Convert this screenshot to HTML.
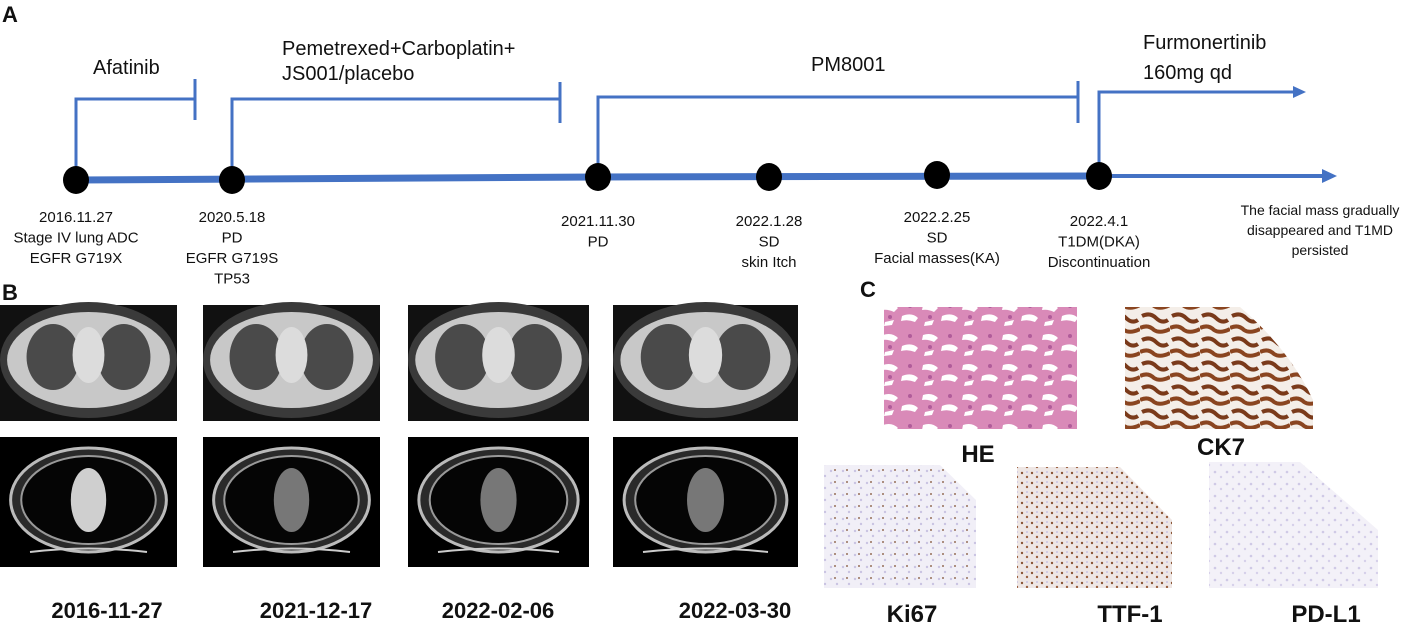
<!DOCTYPE html>
<html><head><meta charset="utf-8"><style>
html,body{margin:0;padding:0;background:#fff;}
svg{display:block;font-family:"Liberation Sans",sans-serif;}
.t{font-family:"Liberation Sans",sans-serif;fill:#111;}
</style></head><body>
<svg width="1418" height="625" viewBox="0 0 1418 625" xmlns="http://www.w3.org/2000/svg">
<defs>
 <pattern id="he" width="40" height="30" patternUnits="userSpaceOnUse">
  <rect width="40" height="30" fill="#d98ab8"/>
  <path d="M3 5 Q12 2 18 8 L14 12 Q8 9 2 10Z M22 16 Q32 12 38 18 L35 22 Q28 19 21 21Z M5 22 L14 20 L12 25 L4 26Z" fill="#fff"/>
  <circle cx="30" cy="6" r="2" fill="#b05c9a"/><circle cx="10" cy="17" r="2" fill="#b05c9a"/>
 </pattern>
 <pattern id="ck" width="30" height="24" patternUnits="userSpaceOnUse">
  <rect width="30" height="24" fill="#f4eee8"/>
  <path d="M2 4 Q10 0 16 6 Q22 12 28 8" stroke="#7a3a1a" stroke-width="4" fill="none"/>
  <path d="M0 16 Q8 12 14 18 Q20 22 30 17" stroke="#8a4520" stroke-width="4" fill="none"/>
 </pattern>
 <pattern id="ki" width="12" height="12" patternUnits="userSpaceOnUse">
  <rect width="12" height="12" fill="#f1eff7"/>
  <circle cx="3" cy="3" r="1.2" fill="#c9c3e2"/><circle cx="9" cy="8" r="1.2" fill="#c9c3e2"/>
  <circle cx="7" cy="2" r="0.9" fill="#7a4a2a"/>
 </pattern>
 <pattern id="ttf" width="10" height="10" patternUnits="userSpaceOnUse">
  <rect width="10" height="10" fill="#eee6e4"/>
  <circle cx="2" cy="3" r="1.2" fill="#8a5535"/><circle cx="7" cy="7" r="1.2" fill="#9a6040"/><circle cx="7" cy="2" r="1" fill="#c9c3e2"/>
 </pattern>
 <pattern id="pd" width="12" height="12" patternUnits="userSpaceOnUse">
  <rect width="12" height="12" fill="#f3f1f8"/>
  <circle cx="3" cy="4" r="1.3" fill="#cfc9e6"/><circle cx="9" cy="9" r="1.2" fill="#d6d0ea"/>
 </pattern>
</defs>

<!-- Panel A -->
<text class="t" x="2" y="22" font-size="22" font-weight="bold">A</text>
<g stroke="#4472c4" fill="none">
 <path d="M76 180 L598 177 L1099 176" stroke-width="7"/>
 <path d="M1099 176 L1325 176" stroke-width="4"/>
 <path d="M76 180 V99 H195 M195 79 V120" stroke-width="3"/>
 <path d="M232 180 V99 H560 M560 82 V123" stroke-width="3"/>
 <path d="M598 177 V97 H1078 M1078 81 V123" stroke-width="3"/>
 <path d="M1099 176 V92 H1295" stroke-width="3"/>
</g>
<path d="M1293 86 L1306 92 L1293 98Z" fill="#4472c4"/>
<path d="M1322 169 L1337 176 L1322 183Z" fill="#4472c4"/>
<g fill="#000">
 <ellipse cx="76" cy="180" rx="13" ry="14"/>
 <ellipse cx="232" cy="180" rx="13" ry="14"/>
 <ellipse cx="598" cy="177" rx="13" ry="14"/>
 <ellipse cx="769" cy="177" rx="13" ry="14"/>
 <ellipse cx="937" cy="175" rx="13" ry="14"/>
 <ellipse cx="1099" cy="176" rx="13" ry="14"/>
</g>
<g class="t" font-size="20">
 <text x="93" y="74">Afatinib</text>
 <text x="282" y="55">Pemetrexed+Carboplatin+</text>
 <text x="282" y="80">JS001/placebo</text>
 <text x="811" y="71">PM8001</text>
 <text x="1143" y="49">Furmonertinib</text>
 <text x="1143" y="79">160mg qd</text>
</g>
<g class="t" font-size="15" text-anchor="middle">
 <text x="76" y="222"><tspan x="76">2016.11.27</tspan><tspan x="76" dy="20.5">Stage IV lung ADC</tspan><tspan x="76" dy="20.5">EGFR G719X</tspan></text>
 <text x="232" y="222"><tspan x="232">2020.5.18</tspan><tspan x="232" dy="20.5">PD</tspan><tspan x="232" dy="20.5">EGFR G719S</tspan><tspan x="232" dy="20.5">TP53</tspan></text>
 <text x="598" y="226"><tspan x="598">2021.11.30</tspan><tspan x="598" dy="20.5">PD</tspan></text>
 <text x="769" y="226"><tspan x="769">2022.1.28</tspan><tspan x="769" dy="20.5">SD</tspan><tspan x="769" dy="20.5">skin Itch</tspan></text>
 <text x="937" y="222"><tspan x="937">2022.2.25</tspan><tspan x="937" dy="20.5">SD</tspan><tspan x="937" dy="20.5">Facial masses(KA)</tspan></text>
 <text x="1099" y="226"><tspan x="1099">2022.4.1</tspan><tspan x="1099" dy="20.5">T1DM(DKA)</tspan><tspan x="1099" dy="20.5">Discontinuation</tspan></text>
 <text x="1320" y="215" font-size="14"><tspan x="1320">The facial mass gradually</tspan><tspan x="1320" dy="20">disappeared and T1MD</tspan><tspan x="1320" dy="20">persisted</tspan></text>
</g>

<!-- Panel B -->
<text class="t" x="2" y="300" font-size="22" font-weight="bold">B</text>
<g id="ctTop"></g>
<g id="ctBot"></g>
<g class="t" font-size="22" font-weight="bold" text-anchor="middle">
 <text x="107" y="618">2016-11-27</text>
 <text x="316" y="618">2021-12-17</text>
 <text x="498" y="618">2022-02-06</text>
 <text x="735" y="618">2022-03-30</text>
</g>

<!-- Panel C -->
<text class="t" x="860" y="297" font-size="22" font-weight="bold">C</text>
<rect x="884" y="307" width="193" height="122" fill="url(#he)"/>
<path d="M1125 307 H1313 V429 H1125Z" fill="url(#ck)"/>
<path d="M1240 307 H1313 V400 Q1290 350 1240 307Z" fill="#fff"/>
<path d="M824 465 H940 L976 500 V588 H824Z" fill="url(#ki)"/>
<path d="M1017 467 H1120 L1172 520 V588 H1017Z" fill="url(#ttf)"/>
<path d="M1209 462 H1300 L1378 530 V588 H1209Z" fill="url(#pd)"/>
<g class="t" font-size="24" font-weight="bold" text-anchor="middle">
 <text x="978" y="462">HE</text>
 <text x="1221" y="455">CK7</text>
 <text x="912" y="622">Ki67</text>
 <text x="1130" y="622">TTF-1</text>
 <text x="1326" y="622">PD-L1</text>
</g>
</svg>
<script>
var svgNs="http://www.w3.org/2000/svg";
var ctXs=[0,203,408,613];
var ctWs=[177,177,181,185];
function mk(p,tag,a){var e=document.createElementNS(svgNs,tag);for(var k in a)e.setAttribute(k,a[k]);p.appendChild(e);return e;}
var ctTopRow=document.getElementById('ctTop'),ctBotRow=document.getElementById('ctBot');
for(var i=0;i<4;i++){
 var x=ctXs[i],w=ctWs[i],cx=x+w/2;
 var g=mk(ctTopRow,'g',{});
 
 
 mk(g,'rect',{x:x,y:305,width:w,height:116,fill:'#111'});
 mk(g,'ellipse',{cx:cx,cy:360,rx:w*0.5,ry:58,fill:'#3a3a3a'});
 mk(g,'ellipse',{cx:cx,cy:360,rx:w*0.46,ry:48,fill:'#c8c8c8'});
 mk(g,'ellipse',{cx:cx-w*0.2,cy:357,rx:w*0.15,ry:33,fill:'#4a4a4a'});
 mk(g,'ellipse',{cx:cx+w*0.2,cy:357,rx:w*0.15,ry:33,fill:'#4a4a4a'});
 mk(g,'ellipse',{cx:cx,cy:355,rx:w*0.09,ry:28,fill:'#dcdcdc'});
 var b=mk(ctBotRow,'g',{});
 
 
 mk(b,'rect',{x:x,y:437,width:w,height:130,fill:'#000'});
 mk(b,'ellipse',{cx:cx,cy:500,rx:w*0.44,ry:52,fill:'#2a2a2a',stroke:'#bbb','stroke-width':3});
 mk(b,'ellipse',{cx:cx,cy:500,rx:w*0.38,ry:44,fill:'#050505',stroke:'#999','stroke-width':2});
 mk(b,'ellipse',{cx:cx,cy:500,rx:w*0.1,ry:32,fill:i==0?'#cfcfcf':'#777'});
 mk(b,'path',{d:'M'+(x+30)+' 552 Q'+cx+' 545 '+(x+w-30)+' 552',stroke:'#ccc','stroke-width':2,fill:'none'});
}
</script>
</body></html>
